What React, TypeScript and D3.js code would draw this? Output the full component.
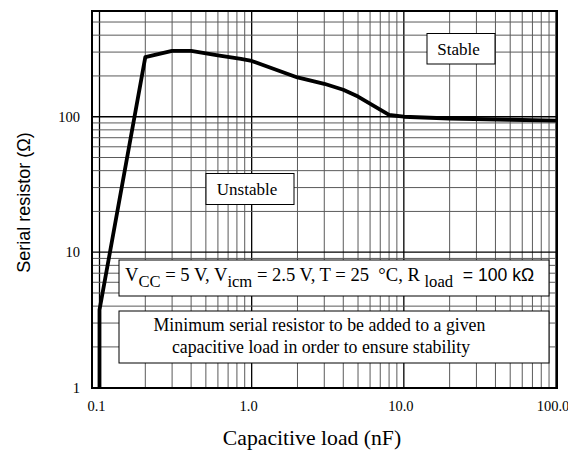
import React from "react";
import * as d3 from "d3";

const capacitance = [0.1, 0.1, 0.2, 0.3, 0.4, 0.6, 0.85, 1.0, 2.0, 3.0, 4.0, 5.0, 8.0, 10, 20, 50, 100];
const resistance = [1, 3.75, 275, 306, 306, 284, 267, 258, 195, 175, 158, 141, 103, 100, 97, 95, 93.5];
const xTickValues = [0.1, 1, 10, 100];
const xTickLabels = ["0.1", "1.0", "10.0", "100.0"];
const yTickValues = [1, 10, 100];
const yTickLabels = ["1", "10", "100"];
const xTitle = "Capacitive load (nF)";
const yTitle = "Serial resistor (\u03A9)";

const W = 568;
const H = 452;

export default function App() {
  const x = d3.scaleLog().domain([0.1, 100]).range([99.5, 556]);
  const y = d3.scaleLog().domain([1, 600]).range([387.7, 11.3]);

  const frameL = 92;
  const frameR = 557;
  const frameT = 11;
  const frameB = 388;

  const xGrid: { v: number; major: boolean }[] = [];
  [0.1, 1, 10].forEach((d) => {
    for (let m = 1; m <= 9; m++) xGrid.push({ v: d * m, major: m === 1 });
  });
  xGrid.push({ v: 100, major: true });
  const yGrid: { v: number; major: boolean }[] = [];
  [1, 10, 100].forEach((d) => {
    for (let m = 1; m <= 9; m++) {
      if (d * m <= 600) yGrid.push({ v: d * m, major: m === 1 });
    }
  });

  const line = d3
    .line<number>()
    .x((_, i) => x(capacitance[i]))
    .y((r) => y(r));
  const path = line(resistance) || "";

  const serif = "'Liberation Serif', 'Times New Roman', serif";
  const sans = "'Liberation Sans', Arial, sans-serif";

  return (
    <svg width={W} height={H} style={{ position: "absolute", left: 0, top: 0 }}>
      <rect x={0} y={0} width={W} height={H} fill="#fff" />
      {xGrid.map((g, i) => (
        <line
          key={"xg" + i}
          x1={x(g.v)}
          x2={x(g.v)}
          y1={frameT}
          y2={frameB}
          stroke={g.major ? "#000" : "#5a5a5a"}
          strokeWidth={g.major ? 1.3 : 1}
        />
      ))}
      {yGrid.map((g, i) => (
        <line
          key={"yg" + i}
          x1={frameL}
          x2={frameR}
          y1={y(g.v)}
          y2={y(g.v)}
          stroke={g.major ? "#000" : "#5a5a5a"}
          strokeWidth={g.major ? 1.3 : 1}
        />
      ))}
      <rect
        x={frameL}
        y={frameT}
        width={frameR - frameL}
        height={frameB - frameT}
        fill="none"
        stroke="#000"
        strokeWidth={2}
      />

      {/* boxes */}
      <rect x={427} y={33.5} width={68} height={30.5} fill="#fff" stroke="#000" strokeWidth={1} />
      <text x={458.5} y={55} textAnchor="middle" fontFamily={serif} fontSize={17}>
        Stable
      </text>
      <rect x={206} y={173.5} width={88} height={31} fill="#fff" stroke="#000" strokeWidth={1} />
      <text x={247} y={195} textAnchor="middle" fontFamily={serif} fontSize={17}>
        Unstable
      </text>

      <rect x={119} y={260} width={430} height={36} fill="#fff" stroke="#000" strokeWidth={1} />
      <text x={125} y={281} fontFamily={serif} fontSize={18.6} style={{ whiteSpace: "pre" }}>
        <tspan>V</tspan>
        <tspan dy={6} fontSize={16.6}>CC</tspan>
        <tspan dy={-6}>{" = 5 V, V"}</tspan>
        <tspan dy={6} fontSize={16.6}>icm</tspan>
        <tspan dy={-6}>{" = 2.5 V, T = 25  \u00B0C, R "}</tspan>
        <tspan dy={6} fontSize={16.6}>load</tspan>
        <tspan dy={-6} fontFamily={sans} fontSize={17.6}>{"  = 100 k\u03A9"}</tspan>
      </text>

      <rect x={119} y={311} width={430} height={52} fill="#fff" stroke="#000" strokeWidth={1} />
      <text x={319.5} y={331} textAnchor="middle" fontFamily={serif} fontSize={17.8}>
        Minimum serial resistor to be added to a given
      </text>
      <text x={321} y={353} textAnchor="middle" fontFamily={serif} fontSize={17.8}>
        capacitive load in order to ensure stability
      </text>

      <path d={path} fill="none" stroke="#000" strokeWidth={3.8} strokeLinejoin="round" />

      {xTickValues.map((v, i) => (
        <text
          key={"xt" + i}
          x={x(v) - 3}
          y={411}
          textAnchor="middle"
          fontFamily={serif}
          fontSize={14.5}
        >
          {xTickLabels[i]}
        </text>
      ))}
      {yTickValues.map((v, i) => (
        <text
          key={"yt" + i}
          x={80}
          y={y(v) + 5}
          textAnchor="end"
          fontFamily={serif}
          fontSize={14.5}
        >
          {yTickLabels[i]}
        </text>
      ))}
      <text x={312} y={444.5} textAnchor="middle" fontFamily={serif} fontSize={21.7}>
        {xTitle}
      </text>
      <text
        transform="translate(30,202.5) rotate(-90)"
        textAnchor="middle"
        fontFamily={sans}
        fontSize={18}
      >
        {yTitle}
      </text>
    </svg>
  );
}
